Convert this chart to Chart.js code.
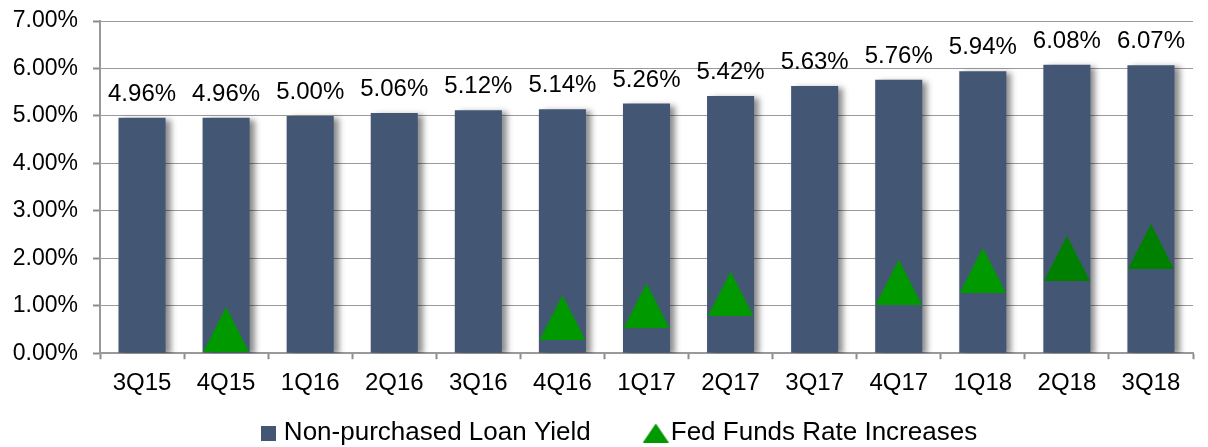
<!DOCTYPE html>
<html>
<head>
<meta charset="utf-8">
<script src="https://cdn.jsdelivr.net/npm/chart.js@4.4.1/dist/chart.umd.min.js"></script>
<style>
  html, body { margin: 0; padding: 0; background: #fff; overflow: hidden; }
  #wrap { width: 1214px; height: 447px; position: relative; }
</style>
</head>
<body>
<div id="wrap"><canvas id="myChart"></canvas></div>
<script>
// data
const quarters = ['3Q15', '4Q15', '1Q16', '2Q16', '3Q16', '4Q16', '1Q17', '2Q17', '3Q17', '4Q17', '1Q18', '2Q18', '3Q18'];
const loanYield = [4.96, 4.96, 5.00, 5.06, 5.12, 5.14, 5.26, 5.42, 5.63, 5.76, 5.94, 6.08, 6.07];
const fedFunds = [null, 0.50, null, null, null, 0.75, 1.00, 1.25, null, 1.50, 1.75, 2.00, 2.25];
const yTicks = [0, 1, 2, 3, 4, 5, 6, 7];

const barColor = '#435775';
const triColors = ['#009900', '#009900', '#009900', '#009900', '#009900', '#009900', '#009900',
                   '#009900', '#009900', '#009900', '#009900', '#008000', '#008000'];
const FONT = '"Liberation Sans", Arial, sans-serif';
const LEGEND_SHIFT = 15;
const LEGEND_TOP = 357;

function makeTriangle(color, w, h) {
    const c = document.createElement('canvas');
    c.width = w; c.height = h;
    const g = c.getContext('2d');
    g.fillStyle = color;
    g.beginPath();
    g.moveTo(0, h);
    g.lineTo(w / 2, 0);
    g.lineTo(w, h);
    g.closePath();
    g.fill();
    return c;
}

function makeSquare(color, s) {
    const c = document.createElement('canvas');
    c.width = s; c.height = s;
    const g = c.getContext('2d');
    g.fillStyle = color;
    g.fillRect(0, 0, s, s);
    return c;
}

const triImages = triColors.map(col => makeTriangle(col, 46, 45));

// soft shadow to the right of the bars
const barShadow = {
    id: 'barShadow',
    beforeDatasetDraw(chart, args) {
        if (args.index !== 0) return;
        const ctx = chart.ctx;
        ctx.save();
        ctx.shadowColor = 'rgba(0,0,0,0.45)';
        ctx.shadowBlur = 6;
        ctx.shadowOffsetX = 5;
        ctx.shadowOffsetY = 2;
    },
    afterDatasetDraw(chart, args) {
        if (args.index !== 0) return;
        chart.ctx.restore();
    }
};

// value labels above the bars
const barLabels = {
    id: 'barLabels',
    afterDatasetsDraw(chart) {
        const ctx = chart.ctx;
        const meta = chart.getDatasetMeta(0);
        ctx.save();
        ctx.font = '24px ' + FONT;
        ctx.fillStyle = '#000';
        ctx.textAlign = 'center';
        ctx.textBaseline = 'alphabetic';
        meta.data.forEach((bar, i) => {
            ctx.fillText(loanYield[i].toFixed(2) + '%', bar.x, bar.y - 17);
        });
        ctx.restore();
    }
};

// move the legend row where the original has it
const legendNudge = {
    id: 'legendNudge',
    afterLayout(chart) {
        const lg = chart.legend;
        lg.left += LEGEND_SHIFT;
        lg.right += LEGEND_SHIFT;
        lg.top = LEGEND_TOP;
        lg.bottom = 447;
    }
};

const ctx = document.getElementById('myChart').getContext('2d');
const chartInstance = new Chart(ctx, {
    data: {
        labels: quarters,
        datasets: [
            {
                type: 'bar',
                label: 'Non-purchased Loan Yield',
                data: loanYield,
                backgroundColor: barColor,
                categoryPercentage: 1,
                barPercentage: 0.56,
                order: 1
            },
            {
                type: 'line',
                label: 'Fed Funds Rate Increases',
                data: fedFunds,
                showLine: false,
                pointStyle: triImages,
                pointRadius: 20,
                pointHoverRadius: 20,
                backgroundColor: triColors,
                order: 0
            }
        ]
    },
    options: {
        responsive: true,
        maintainAspectRatio: false,
        animation: false,
        layout: { padding: { top: 19, left: 0, right: 0, bottom: 0 } },
        scales: {
            x: {
                offset: true,
                grid: {
                    offset: true,
                    drawOnChartArea: false,
                    drawTicks: true,
                    tickLength: 6,
                    tickColor: '#8c8c8c',
                    tickWidth: 2
                },
                border: { color: '#999999', width: 2 },
                ticks: {
                    color: '#000',
                    font: { family: FONT, size: 24 },
                    padding: 10,
                    maxRotation: 0
                }
            },
            y: {
                min: 0,
                max: 7,
                afterFit: function (scale) {
                    scale.width = 100;
                    scale.paddingTop = 0;
                    scale.paddingBottom = 0;
                },
                afterBuildTicks: function (scale) {
                    scale.ticks = yTicks.map(v => ({ value: v }));
                },
                grid: {
                    color: '#9a9a9a',
                    borderDash: [2, 2],
                    tickLength: 7,
                    tickColor: '#8c8c8c',
                    tickWidth: 2,
                    tickBorderDash: []
                },
                border: { color: '#999999', width: 2 },
                ticks: {
                    color: '#000',
                    font: { family: FONT, size: 23 },
                    padding: 15,
                    callback: function (v) { return Number(v).toFixed(2) + '%'; }
                }
            }
        },
        plugins: {
            tooltip: { enabled: false },
            legend: {
                display: true,
                position: 'bottom',
                maxHeight: 39,
                labels: {
                    usePointStyle: true,
                    pointStyleWidth: 4,
                    padding: 63,
                    color: '#000',
                    font: { family: FONT, size: 26 },
                    generateLabels: function () {
                        return [
                            { text: 'Non-purchased Loan Yield', pointStyle: makeSquare(barColor, 15),
                              fillStyle: barColor, strokeStyle: barColor, lineWidth: 0, hidden: false, datasetIndex: 0 },
                            { text: 'Fed Funds Rate Increases', pointStyle: makeTriangle('#009900', 26, 19),
                              fillStyle: '#009900', strokeStyle: '#009900', lineWidth: 0, hidden: false, datasetIndex: 1 }
                        ];
                    }
                }
            }
        }
    },
    plugins: [barShadow, barLabels, legendNudge]
});
</script>
</body>
</html>
